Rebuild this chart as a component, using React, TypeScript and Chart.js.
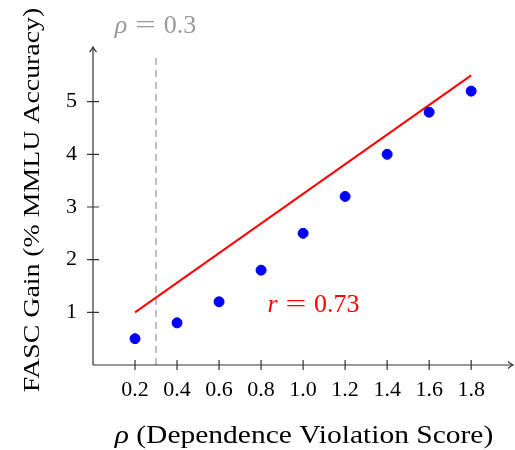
import React, { useEffect, useRef } from "react";
import { Chart, registerables } from "chart.js";

Chart.register(...registerables);

const rhoValues = [0.2, 0.4, 0.6, 0.8, 1.0, 1.2, 1.4, 1.6, 1.8];
const gainValues = [0.5, 0.8, 1.2, 1.8, 2.5, 3.2, 4.0, 4.8, 5.2];
const fitX = [0.2, 1.8];
const fitY = [1.0, 5.5];
const thresholdRho = 0.3;
const thresholdTop = 5.87;
const xTickValues = [0.2, 0.4, 0.6, 0.8, 1.0, 1.2, 1.4, 1.6, 1.8];
const yTickValues = [1, 2, 3, 4, 5];
const xTitle = "(Dependence Violation Score)";
const yTitle = "FASC Gain (% MMLU Accuracy)";
const thresholdValue = "0.3";
const corrValue = "0.73";

const SERIF = "'Liberation Serif', 'Times New Roman', serif";

function drawStretched(ctx: any, text: string, x: number, y: number, font: string, stretch: number, align: string) {
  ctx.save();
  ctx.font = font;
  ctx.textAlign = align;
  ctx.translate(x, y);
  ctx.scale(stretch, 1);
  ctx.fillText(text, 0, 0);
  ctx.restore();
}

function drawMath(ctx: any, sym: string, val: string, cx: number, baseY: number, size: number, color: string) {
  // pieces: italic symbol, "=", value — spaced like TeX math
  ctx.save();
  ctx.fillStyle = color;
  ctx.textBaseline = "alphabetic";
  ctx.textAlign = "left";
  const fi = `italic ${size}px ${SERIF}`;
  const fr = `${size}px ${SERIF}`;
  ctx.font = fi;
  const ws = ctx.measureText(sym).width;
  ctx.font = fr;
  const eqW = size * 0.8;
  const gap = size * 0.3;
  const wv = ctx.measureText(val).width;
  const total = ws + gap + eqW + gap + wv;
  let x = cx - total / 2;
  ctx.font = fi;
  ctx.fillText(sym, x, baseY);
  x += ws + gap;
  // equals sign, stretched to TeX width
  ctx.font = fr;
  const wEq = ctx.measureText("=").width;
  ctx.save();
  ctx.translate(x, baseY);
  ctx.scale(eqW / wEq, 1);
  ctx.fillText("=", 0, 0);
  ctx.restore();
  x += eqW + gap;
  ctx.fillText(val, x, baseY);
  ctx.restore();
}

const overlayPlugin = {
  id: "overlay",
  afterDraw(chart: any) {
    const ctx = chart.ctx;
    const xs = chart.scales.x;
    const ys = chart.scales.y;
    const x0 = xs.getPixelForValue(0);
    const y0 = ys.getPixelForValue(0);
    ctx.save();
    ctx.strokeStyle = "#333";
    ctx.lineWidth = 1.2;
    const xEnd = 513;
    const yEnd = ys.getPixelForValue(6) - 2;
    ctx.beginPath();
    ctx.moveTo(x0, y0);
    ctx.lineTo(xEnd, y0);
    ctx.moveTo(x0, y0);
    ctx.lineTo(x0, yEnd);
    ctx.stroke();
    ctx.beginPath();
    ctx.moveTo(xEnd - 5, y0 - 3.5);
    ctx.quadraticCurveTo(xEnd - 2, y0 - 0.8, xEnd, y0);
    ctx.quadraticCurveTo(xEnd - 2, y0 + 0.8, xEnd - 5, y0 + 3.5);
    ctx.moveTo(x0 - 3.5, yEnd + 5);
    ctx.quadraticCurveTo(x0 - 0.8, yEnd + 2, x0, yEnd);
    ctx.quadraticCurveTo(x0 + 0.8, yEnd + 2, x0 + 3.5, yEnd + 5);
    ctx.stroke();
    ctx.beginPath();
    xTickValues.forEach((v) => {
      const px = xs.getPixelForValue(v);
      ctx.moveTo(px, y0 - 5);
      ctx.lineTo(px, y0 + 5);
    });
    yTickValues.forEach((v) => {
      const py = ys.getPixelForValue(v);
      ctx.moveTo(x0 - 6, py);
      ctx.lineTo(x0 + 6, py);
    });
    ctx.stroke();

    // annotations
    const tx = xs.getPixelForValue(thresholdRho);
    drawMath(ctx, "ρ", thresholdValue, tx - 0.5, 33, 26, "#999");
    drawMath(ctx, "r", corrValue, xs.getPixelForValue(1.05), 312, 26, "#ff0000");

    // x title
    ctx.fillStyle = "#000";
    ctx.textBaseline = "alphabetic";
    const tf = `25px ${SERIF}`;
    const tfi = `italic 25px ${SERIF}`;
    const stretchX = 1.18;
    ctx.font = tfi;
    const wp = ctx.measureText("ρ").width * stretchX;
    ctx.font = tf;
    const wx = ctx.measureText(" " + xTitle).width * stretchX;
    const sx = 304 - (wp + wx) / 2;
    drawStretched(ctx, "ρ", sx, 443, tfi, stretchX, "left");
    drawStretched(ctx, " " + xTitle, sx + wp, 443, tf, stretchX, "left");

    // y title
    ctx.save();
    ctx.translate(33, 200);
    ctx.rotate(-Math.PI / 2);
    ctx.textBaseline = "middle";
    drawStretched(ctx, yTitle, 0, 0, `24px ${SERIF}`, 1.16, "center");
    ctx.restore();
    ctx.restore();
  },
};

export default function App() {
  const ref = useRef<HTMLCanvasElement>(null);
  useEffect(() => {
    document.body.style.margin = "0";
    const canvas = ref.current;
    if (!canvas) return;
    const chart = new Chart(canvas, {
      type: "scatter",
      data: {
        datasets: [
          {
            type: "scatter",
            data: rhoValues.map((x, i) => ({ x, y: gainValues[i] })),
            backgroundColor: "#0000ff",
            borderColor: "#0000ff",
            pointRadius: 5,
            pointHoverRadius: 5,
          },
          {
            type: "line",
            data: fitX.map((x, i) => ({ x, y: fitY[i] })),
            borderColor: "#ff0000",
            borderWidth: 2,
            pointRadius: 0,
            fill: false,
          },
          {
            type: "line",
            data: [
              { x: thresholdRho, y: 0 },
              { x: thresholdRho, y: thresholdTop },
            ],
            borderColor: "#808080",
            borderWidth: 1,
            borderDash: [7, 5],
            pointRadius: 0,
            fill: false,
          },
        ],
      } as any,
      options: {
        responsive: false,
        animation: false,
        layout: { padding: { top: 49, right: 3, left: 0, bottom: 0 } },
        plugins: { legend: { display: false }, tooltip: { enabled: false } },
        scales: {
          x: {
            type: "linear",
            min: 0,
            max: 1.98,
            grid: { display: false, drawTicks: false },
            border: { display: false },
            afterBuildTicks: (s: any) => {
              s.ticks = xTickValues.map((v) => ({ value: v }));
            },
            afterFit: (s: any) => {
              s.height = 85;
            },
            ticks: {
              color: "#000",
              font: { family: SERIF, size: 22 },
              padding: 12,
              maxRotation: 0,
              autoSkip: false,
              callback: (v: any) => Number(v).toFixed(1),
            },
          },
          y: {
            type: "linear",
            min: 0,
            max: 6,
            grid: { display: false, drawTicks: false },
            border: { display: false },
            afterBuildTicks: (s: any) => {
              s.ticks = yTickValues.map((v) => ({ value: v }));
            },
            afterFit: (s: any) => {
              s.width = 93;
            },
            ticks: {
              color: "#000",
              font: { family: SERIF, size: 22 },
              padding: 16,
              autoSkip: false,
              callback: (v: any) => String(v),
            },
          },
        },
      } as any,
      plugins: [overlayPlugin],
    });
    return () => chart.destroy();
  }, []);
  return (
    <div style={{ width: 515, height: 450 }}>
      <canvas ref={ref} width={515} height={450} />
    </div>
  );
}
